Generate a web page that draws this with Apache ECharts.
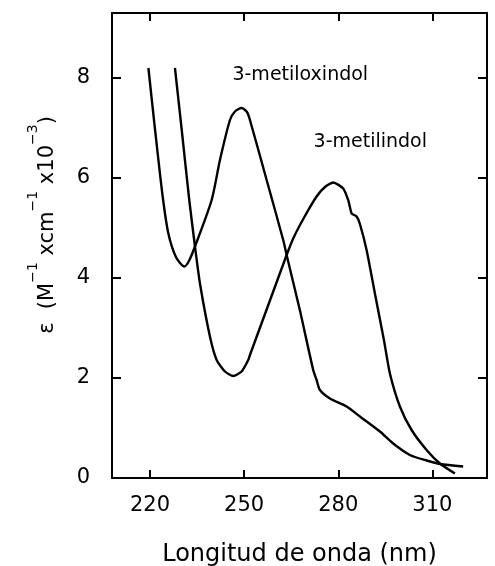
<!DOCTYPE html>
<html>
<head>
<meta charset="utf-8">
<script src="https://cdn.jsdelivr.net/npm/echarts@6/dist/echarts.min.js"></script>
<style>html,body{margin:0;padding:0;background:#fff}#c{width:495px;height:566px}</style>
</head>
<body>
<div id="c"></div>
<script>
// 3-metiloxindol: [wavelength nm, epsilon x10^-3]
const oxindolWl = [219.5,221.7,224.05,225.83,228.28,230.93,232.42,234.34,239.66,242.3,245.49,247.08,249.21,250.9,251.86,257.18,262.46,263.55,267.79,272.02,273.1,274.16,277.34,282.66,286.9,293.27,297.5,302.83,308.15,312.39,319.8];
const oxindolEps = [8.2,6.92,5.63,4.90,4.42,4.23,4.34,4.63,5.56,6.36,7.16,7.33,7.4,7.32,7.16,5.96,4.76,4.46,3.35,2.16,1.96,1.76,1.59,1.43,1.23,0.93,0.69,0.46,0.35,0.28,0.23];
// 3-metilindol
const indolWl = [227.96,230.26,232.52,234.34,235.93,239.11,241.25,243.89,246.54,249.21,251.32,251.86,257.59,263.55,265.87,269.38,273.1,275.75,278.4,281.58,283.17,283.71,284.26,285.85,286.9,289.03,291.68,294.55,296.46,299.64,303.37,308.15,312.39,317.17];
const indolEps = [8.2,6.88,5.56,4.63,3.89,2.83,2.36,2.13,2.04,2.13,2.36,2.46,3.44,4.46,4.82,5.24,5.63,5.82,5.91,5.79,5.56,5.42,5.29,5.23,5.08,4.56,3.69,2.76,2.09,1.43,0.96,0.56,0.29,0.09];
const xTicks = [220,250,280,310];
const yTicks = [0,2,4,6,8];
const labelOx = {text:'3-metiloxindol', x:267.9, y:8.06};
const labelIn = {text:'3-metilindol', x:290.2, y:6.72};

const FONT = 'DejaVu Sans';
const chart = echarts.init(document.getElementById('c'));
const zip = (a,b)=>a.map((v,i)=>[v,b[i]]);
const xMin = 207.9, xMax = 327.4, yMin = 0, yMax = 9.3;
const lineStyle = {color:'#000', width:2};
function xAx(pos, labels){
  return {type:'value', position:pos, min:xMin, max:xMax,
    axisLine:{show:true, onZero:false, lineStyle:lineStyle},
    axisTick:{show:true, inside:true, length:8, lineStyle:{color:'#000',width:2}, customValues:xTicks},
    axisLabel:{show:labels, customValues:xTicks, color:'#000', fontFamily:FONT, fontSize:21, margin:17},
    splitLine:{show:false},
    name: labels ? 'Longitud de onda (nm)' : '', nameLocation:'middle', nameGap:65,
    nameTextStyle:{color:'#000', fontFamily:FONT, fontSize:24}};
}
function yAx(pos, labels){
  return {type:'value', position:pos, min:yMin, max:yMax,
    axisLine:{show:true, onZero:false, lineStyle:lineStyle},
    axisTick:{show:true, inside:true, length:9, lineStyle:{color:'#000',width:2}, customValues:yTicks},
    axisLabel:{show:labels, customValues:yTicks, color:'#000', fontFamily:FONT, fontSize:21, margin:22},
    splitLine:{show:false}};
}
function annot(l){
  return {symbol:'circle', symbolSize:0, silent:true,
    label:{show:true, position:'inside', formatter:l.text, color:'#000', fontFamily:FONT, fontSize:19},
    data:[{coord:[l.x,l.y]}]};
}
chart.setOption({
  animation:false,
  backgroundColor:'#fff',
  grid:{left:112, right:8, top:13, bottom:88, containLabel:false, outerBoundsMode:'none'},
  xAxis:[xAx('bottom',true), xAx('top',false)],
  yAxis:[yAx('left',true), yAx('right',false)],
  series:[
    {type:'line', data:zip(oxindolWl,oxindolEps), showSymbol:false, smooth:0.25,
     lineStyle:{color:'#000',width:2.4}, markPoint:annot(labelOx)},
    {type:'line', data:zip(indolWl,indolEps), showSymbol:false, smooth:0.2,
     lineStyle:{color:'#000',width:2.4}, markPoint:annot(labelIn)}
  ],
  graphic:[{
    type:'text', x:42, y:225, rotation:Math.PI/2,
    style:{
      text:'{m|ε  (M}{s|−1}{m| xcm}{s|−1}{m| x10}{s|−3}{m|)}',
      align:'center', verticalAlign:'middle',
      rich:{
        m:{fontFamily:FONT, fontSize:21, fill:'#000', lineHeight:32, verticalAlign:'bottom'},
        s:{fontFamily:FONT, fontSize:14, fill:'#000', lineHeight:32, verticalAlign:'top'}
      }
    }
  }]
});
</script>
</body>
</html>
